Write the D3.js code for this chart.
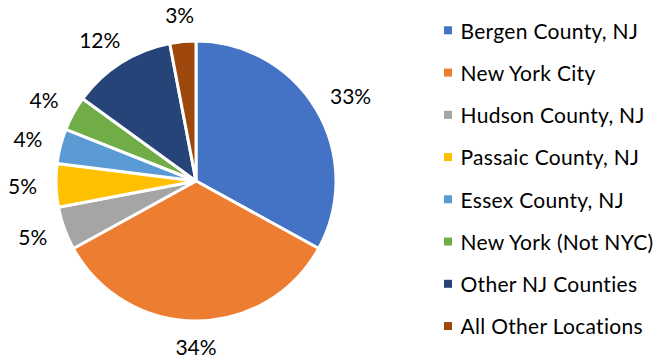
<!DOCTYPE html>
<html>
<head>
<meta charset="utf-8">
<script src="https://cdn.jsdelivr.net/npm/d3@7"></script>
<style>
  html, body { margin: 0; padding: 0; background: #fff; }
  svg { display: block; }
  text { font-variant-ligatures: none; font-feature-settings: "liga" 0; }
</style>
</head>
<body>
<svg id="chart" width="657" height="360"></svg>
<script>
// Share of locations (percent)
const categories = [
  "Bergen County, NJ",
  "New York City",
  "Hudson County, NJ",
  "Passaic County, NJ",
  "Essex County, NJ",
  "New York (Not NYC)",
  "Other NJ Counties",
  "All Other Locations"
];
const values = [33, 34, 5, 5, 4, 4, 12, 3];
const labels = ["33%", "34%", "5%", "5%", "4%", "4%", "12%", "3%"];
const colors = ["#4472C4", "#ED7D31", "#A5A5A5", "#FFC000", "#5B9BD5", "#70AD47", "#264478", "#9E480E"];

const font = "Lato, 'Open Sans', sans-serif";
const svg = d3.select("#chart");

const cx = 196, cy = 181, r = 140;
const data = categories.map((c, i) => ({ name: c, value: values[i], label: labels[i], color: colors[i] }));

const pie = d3.pie().value(d => d.value).sort(null);
const arc = d3.arc().innerRadius(0).outerRadius(r);

const g = svg.append("g").attr("transform", `translate(${cx},${cy})`);
const arcs = pie(data);

g.selectAll("path.slice")
  .data(arcs)
  .join("path")
  .attr("class", "slice")
  .attr("d", arc)
  .attr("fill", d => d.data.color)
  .attr("stroke", "#fff")
  .attr("stroke-width", 3)
  .attr("stroke-linejoin", "round");

// Percent labels sit just outside the rim, pushed outward by half their box
const labelR = r + 19;
const pct = g.selectAll("text.pct")
  .data(arcs)
  .join("text")
  .attr("class", "pct")
  .attr("text-anchor", "middle")
  .attr("font-family", font)
  .attr("font-size", 21)
  .attr("fill", "#000")
  .text(d => d.data.label);

pct.each(function (d) {
  const a = (d.startAngle + d.endAngle) / 2;
  const w = this.getComputedTextLength();
  const h = 15;
  const x = Math.sin(a) * labelR + Math.sin(a) * w / 2;
  const y = -Math.cos(a) * labelR - Math.cos(a) * h / 2;
  d3.select(this).attr("x", x).attr("y", y + h / 2);
});

// Legend
const legendX = 444, legendY0 = 30.3, legendStep = 42.25;
const legend = svg.append("g");
const items = legend.selectAll("g.item")
  .data(data)
  .join("g")
  .attr("class", "item")
  .attr("transform", (d, i) => `translate(${legendX},${legendY0 + i * legendStep})`);

items.append("rect")
  .attr("x", 0).attr("y", -4)
  .attr("width", 8).attr("height", 8)
  .attr("fill", d => d.color);

items.append("text")
  .attr("x", 16.5)
  .attr("y", 8.2)
  .attr("font-family", font)
  .attr("font-size", 21)
  .attr("letter-spacing", 0.3)
  .attr("fill", "#000")
  .text(d => d.name);
</script>
</body>
</html>
